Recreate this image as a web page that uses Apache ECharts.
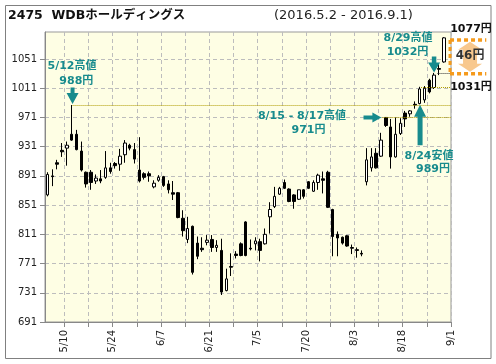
<!DOCTYPE html>
<html><head><meta charset="utf-8">
<script src="https://cdn.jsdelivr.net/npm/echarts/dist/echarts.min.js"></script>
<style>html,body{margin:0;padding:0;background:#fff}#main{width:496px;height:364px}</style>
</head><body><div id="main"></div>
<script>
const dates = ['5/2','5/6','5/9','5/10','5/11','5/12','5/13','5/16','5/17','5/18','5/19','5/20','5/23','5/24','5/25','5/26','5/27','5/30','5/31',
'6/1','6/2','6/3','6/6','6/7','6/8','6/9','6/10','6/13','6/14','6/15','6/16','6/17','6/20','6/21','6/22','6/23','6/24','6/27','6/28','6/29','6/30',
'7/1','7/4','7/5','7/6','7/7','7/8','7/11','7/12','7/13','7/14','7/15','7/19','7/20','7/21','7/22','7/25','7/26','7/27','7/28','7/29',
'8/1','8/2','8/3','8/4','8/5','8/8','8/9','8/10','8/12','8/15','8/16','8/17','8/18','8/19','8/22','8/23','8/24','8/25','8/26','8/29','8/30','8/31',
'9/1'];
const openP  = [865,891,909,926,929,948,948,925,896,896,884,887,889,902,908,907,920,933,927,899,894,894,876,885,890,880,868,868,833,804,822,799,792,800,804,793,789,734,767,784,798,828,792,798,801,798,835,849,866,882,873,865,859,872,883,870,882,887,896,845,811,807,809,793,790,785,883,902,922,918,971,958,917,949,977,976,989,990,995,1022,1012,1038,1047];
const closeP = [893,890,907,924,933,940,927,899,880,882,888,884,902,897,905,918,936,929,914,884,889,891,881,889,878,872,866,834,816,819,759,781,790,803,793,796,732,750,766,782,782,782,791,802,789,811,845,863,874,874,856,856,872,863,874,882,892,885,848,808,806,799,795,792,789,784,913,917,902,940,960,917,948,963,969,980,988,1010,1011,1006,1029,1037,1080];
const lowP   = [863,877,900,917,905,939,926,897,875,872,880,881,887,894,901,898,909,926,908,882,886,883,874,883,876,867,858,833,808,799,756,777,787,796,787,787,728,733,754,778,781,781,789,789,774,797,812,847,865,873,855,846,858,860,873,869,872,867,847,781,781,797,794,784,779,781,878,897,901,917,958,901,916,947,958,972,983,989,991,1004,1010,1029,1046];
const highP  = [896,900,913,936,938,988,954,938,897,899,893,899,925,909,910,928,940,935,936,944,896,897,885,892,891,885,884,869,844,835,823,808,807,810,810,803,805,764,785,788,800,829,804,807,805,819,855,876,876,886,874,866,872,873,884,885,894,897,898,846,815,808,810,797,793,789,929,929,929,950,971,969,971,970,980,981,993,1013,1014,1024,1032,1044,1081];
const yTicks = [691,731,771,811,851,891,931,971,1011,1051];
const xLabelDates = ['5/10','5/24','6/7','6/21','7/5','7/20','8/3','8/18','9/1'];

const FONT = '"DejaVu Sans","Noto Sans CJK JP",sans-serif';
const TEAL = '#178b8d';
const DOT = '#b09c00';

const candleData = openP.map((o, i) => [i + 0.5, o, closeP[i], lowP[i], highP[i]]);
const xLabelVals = xLabelDates.map(d => dates.indexOf(d) + 1);
const xTickVals = [];
for (let v = 4; v <= dates.length; v += 5) xTickVals.push(v);

const chart = echarts.init(document.getElementById('main'), null, {renderer: 'canvas'});
chart.setOption({
  animation: false,
  backgroundColor: '#fff',
  grid: {left: 45, top: 32, width: 406, height: 290, show: true, backgroundColor: '#fefee4', borderColor: '#999', borderWidth: 1},
  xAxis: {
    type: 'value', min: 0, max: dates.length,
    axisLine: {show: true, onZero: false, lineStyle: {color: '#888'}},
    axisTick: {show: true, length: 5, customValues: xTickVals, lineStyle: {color: '#888'}},
    axisLabel: {customValues: xLabelVals, rotate: 90, margin: 8, fontSize: 10, color: '#222', fontFamily: FONT,
      formatter: v => dates[Math.round(v) - 1]},
    splitLine: {show: true, lineStyle: {color: '#bdbdbd', type: [4, 3]}}
  },
  yAxis: {
    type: 'value', min: 691, max: 1088,
    axisLine: {show: true, lineStyle: {color: '#888'}},
    axisTick: {show: true, length: 5, customValues: yTicks, lineStyle: {color: '#888'}},
    axisLabel: {customValues: yTicks, margin: 8, fontSize: 10, color: '#222', fontFamily: FONT,
      formatter: v => String(v)},
    splitLine: {show: true, lineStyle: {color: '#bdbdbd', type: [4, 3]}}
  },
  series: [{
    type: 'candlestick',
    data: candleData,
    encode: {x: 0, y: [1, 2, 3, 4]},
    barWidth: 3,
    itemStyle: {color: '#fff', color0: '#000', borderColor: '#000', borderColor0: '#000', borderWidth: 1},
    markLine: {
      silent: true, symbol: ['none', 'none'], label: {show: false}, animation: false,
      data: [
        [{coord: [5.7, 988], lineStyle: {color: DOT, type: 'dotted', width: 1}}, {coord: [84, 988]}],
        [{coord: [69.8, 971], lineStyle: {color: DOT, type: 'dotted', width: 1}}, {coord: [84, 971]}],
        [{coord: [77.8, 1012], lineStyle: {color: DOT, type: 'dotted', width: 1}}, {coord: [84, 1012]}],
        [{coord: [81.2, 1032], lineStyle: {color: '#333', type: 'dotted', width: 1}}, {coord: [84, 1032]}]
      ]
    }
  }]
});

const P = (x, y) => chart.convertToPixel({gridIndex: 0}, [x, y]);
function arrow(tail, tip, headLen, headW, shaftW) {
  const dx = tip[0] - tail[0], dy = tip[1] - tail[1];
  const L = Math.hypot(dx, dy), ux = dx / L, uy = dy / L, px = -uy, py = ux;
  const bx = tip[0] - ux * headLen, by = tip[1] - uy * headLen;
  return [tip, [bx + px * headW / 2, by + py * headW / 2], [bx + px * shaftW / 2, by + py * shaftW / 2],
    [tail[0] + px * shaftW / 2, tail[1] + py * shaftW / 2], [tail[0] - px * shaftW / 2, tail[1] - py * shaftW / 2],
    [bx - px * shaftW / 2, by - py * shaftW / 2], [bx - px * headW / 2, by - py * headW / 2]];
}
function txt(text, pos, font, fill) {
  return {type: 'text', x: pos[0], y: pos[1], z: 100,
    style: {text: text, font: font, fill: fill, align: 'center', verticalAlign: 'middle'}};
}
function poly(points, fill) {
  return {type: 'polygon', z: 90, shape: {points: points}, style: {fill: fill}};
}
const tealFont = 'bold 11px ' + FONT;
const blackFont = 'bold 11px ' + FONT;

const boxTop = P(83.8, 1077), boxBot = P(91.3, 1031);
const dTop = P(87.94, 1074.7), dBot = P(87.94, 1033.6);
const cx = dTop[0];
const dblArrow = [[cx, dTop[1]], [cx + 12, dTop[1] + 8], [cx + 7, dTop[1] + 8], [cx + 7, dBot[1] - 8], [cx + 12, dBot[1] - 8],
  [cx, dBot[1]], [cx - 12, dBot[1] - 8], [cx - 7, dBot[1] - 8], [cx - 7, dTop[1] + 8], [cx - 12, dTop[1] + 8]];

const graphics = [
  {type: 'rect', z: 50, shape: {x: 5.5, y: 5.5, width: 485.5, height: 353}, style: {fill: 'none', stroke: '#808080', lineWidth: 1}},
  {type: 'text', x: 8, y: 16, z: 100, style: {text: '2475  WDBホールディングス', font: 'bold 12.5px ' + FONT, fill: '#111', align: 'left', verticalAlign: 'middle'}},
  {type: 'text', x: 274, y: 16, z: 100, style: {text: '(2016.5.2 - 2016.9.1)', font: '13px ' + FONT, fill: '#222', align: 'left', verticalAlign: 'middle'}},
  poly(arrow(P(5.7, 1012), P(5.7, 989.5), 11, 12, 4), TEAL),
  poly(arrow(P(65.9, 971), P(69.6, 971), 9, 10, 4), TEAL),
  poly(arrow(P(77.6, 933), P(77.6, 988.5), 12, 12, 5), TEAL),
  poly(arrow(P(80.5, 1054.5), P(80.5, 1032.5), 10, 12, 4.5), TEAL),
  txt('5/12高値', P(5.59, 1040.7), tealFont, TEAL),
  txt('988円', P(6.48, 1020.9), tealFont, TEAL),
  txt('8/15 - 8/17高値', P(53.17, 972.9), tealFont, TEAL),
  txt('971円', P(54.52, 953.7), tealFont, TEAL),
  txt('8/24安値', P(79.45, 918.1), tealFont, TEAL),
  txt('989円', P(80.28, 899.6), tealFont, TEAL),
  txt('8/29高値', P(75.1, 1079.1), tealFont, TEAL),
  txt('1032円', P(75.0, 1059.9), tealFont, TEAL),
  poly(dblArrow, '#f8c88e'),
  {type: 'line', z: 95, shape: {x1: boxTop[0], y1: boxTop[1], x2: boxBot[0], y2: boxTop[1]}, style: {stroke: '#f59a1b', lineWidth: 3.5, lineDash: [4, 3]}},
  {type: 'line', z: 95, shape: {x1: boxTop[0], y1: boxBot[1], x2: boxBot[0], y2: boxBot[1]}, style: {stroke: '#f59a1b', lineWidth: 3.5, lineDash: [4, 3]}},
  {type: 'line', z: 95, shape: {x1: boxTop[0], y1: boxTop[1], x2: boxTop[0], y2: boxBot[1]}, style: {stroke: '#f59a1b', lineWidth: 3, lineDash: [4, 3]}},
  txt('46円', P(87.94, 1055), 'bold 12px ' + FONT, '#333'),
  txt('1077円', P(88.14, 1092.5), blackFont, '#111'),
  txt('1031円', P(88.14, 1012), blackFont, '#111')
];
chart.setOption({graphic: graphics});
</script>
</body></html>
